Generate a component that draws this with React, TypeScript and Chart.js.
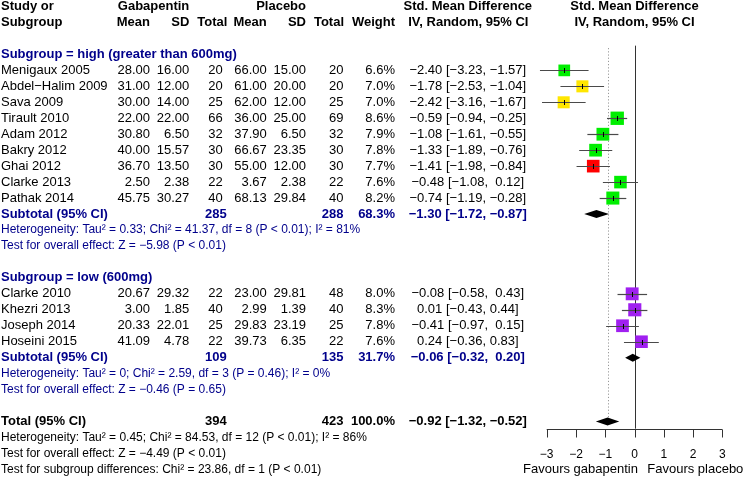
import React, { useEffect, useRef } from "react";
import { Chart, registerables } from "chart.js";

Chart.register(...registerables);

// ---------------- data ----------------
const studies = [
  "Menigaux 2005", "Abdel\u2212Halim 2009", "Sava 2009", "Tirault 2010", "Adam 2012",
  "Bakry 2012", "Ghai 2012", "Clarke 2013", "Pathak 2014",
  "Clarke 2010", "Khezri 2013", "Joseph 2014", "Hoseini 2015",
];
const subgroupOf = ["high", "high", "high", "high", "high", "high", "high", "high", "high", "low", "low", "low", "low"];
const gabaMean = [28.0, 31.0, 30.0, 22.0, 30.8, 40.0, 36.7, 2.5, 45.75, 20.67, 3.0, 20.33, 41.09];
const gabaSD = [16.0, 12.0, 14.0, 22.0, 6.5, 15.57, 13.5, 2.38, 30.27, 29.32, 1.85, 22.01, 4.78];
const gabaN = [20, 20, 25, 66, 32, 30, 30, 22, 40, 22, 40, 25, 22];
const placMean = [66.0, 61.0, 62.0, 36.0, 37.9, 66.67, 55.0, 3.67, 68.13, 23.0, 2.99, 29.83, 39.73];
const placSD = [15.0, 20.0, 12.0, 25.0, 6.5, 23.35, 12.0, 2.38, 29.84, 29.81, 1.39, 23.19, 6.35];
const placN = [20, 20, 25, 69, 32, 30, 30, 22, 40, 48, 40, 25, 22];
const weights = [6.6, 7.0, 7.0, 8.6, 7.9, 7.8, 7.7, 7.6, 8.2, 8.0, 8.3, 7.8, 7.6];
const smd = [-2.4, -1.78, -2.42, -0.59, -1.08, -1.33, -1.41, -0.48, -0.74, -0.08, 0.01, -0.41, 0.24];
const ciLow = [-3.23, -2.53, -3.16, -0.94, -1.61, -1.89, -1.98, -1.08, -1.19, -0.58, -0.43, -0.97, -0.36];
const ciHigh = [-1.57, -1.04, -1.67, -0.25, -0.55, -0.76, -0.84, 0.12, -0.28, 0.43, 0.44, 0.15, 0.83];
const studyColors = ["#00ee00", "#ffe600", "#ffe600", "#00ee00", "#00ee00", "#00ee00", "#ff0000", "#00ee00", "#00ee00", "#a020f0", "#a020f0", "#a020f0", "#a020f0"];

const subgroupLabels = ["Subgroup = high (greater than 600mg)", "Subgroup = low (600mg)"];
const subgroupKeys = ["high", "low"];
const subtotalGabaN = [285, 109];
const subtotalPlacN = [288, 135];
const subtotalWeight = [68.3, 31.7];
const subtotalSmd = [-1.3, -0.06];
const subtotalLow = [-1.72, -0.32];
const subtotalHigh = [-0.87, 0.2];
const subgroupHet = [
  "Heterogeneity: Tau\u00b2 = 0.33; Chi\u00b2 = 41.37, df = 8 (P < 0.01); I\u00b2 = 81%",
  "Heterogeneity: Tau\u00b2 = 0; Chi\u00b2 = 2.59, df = 3 (P = 0.46); I\u00b2 = 0%",
];
const subgroupTest = [
  "Test for overall effect: Z = \u22125.98 (P < 0.01)",
  "Test for overall effect: Z = \u22120.46 (P = 0.65)",
];

const totalGabaN = 394;
const totalPlacN = 423;
const totalWeight = 100.0;
const totalSmd = -0.92;
const totalLow = -1.32;
const totalHigh = -0.52;
const totalHet = "Heterogeneity: Tau\u00b2 = 0.45; Chi\u00b2 = 84.53, df = 12 (P < 0.01); I\u00b2 = 86%";
const totalTest = "Test for overall effect: Z = \u22124.49 (P < 0.01)";
const subgroupDiffTest = "Test for subgroup differences: Chi\u00b2 = 23.86, df = 1 (P < 0.01)";

const xTicks = [-3, -2, -1, 0, 1, 2, 3];
const labelLeft = "Favours gabapentin";
const labelRight = "Favours placebo";

// ---------------- layout / style ----------------
const W = 747;
const H = 477;
const FONT = "'Liberation Sans', Arial, Helvetica, sans-serif";
const BLUE = "#00008b";
const COL = {
  study: 1,
  gMean: 150,
  gSD: 189.3,
  gN: 222.7,
  gNsub: 226.7,
  pMean: 266.7,
  pSD: 306,
  pN: 343.5,
  weight: 395,
  ci: 467.8,
};

const fmt = (v: number, d = 2) => {
  const s = Math.abs(v).toFixed(d);
  return v < 0 ? "\u2212" + s : s;
};
const ciText = (e: number, lo: number, hi: number) =>
  `${fmt(e)} [${fmt(lo)},${hi >= 0 && e < 0 ? "  " : " "}${fmt(hi)}]`;

// build row layout (row index -> content)
type Row = { idx?: number; kind: string; g?: number };
const rows: { row: number; item: Row }[] = [];
let r = 0;
const subRows: number[] = [];
subgroupKeys.forEach((key, g) => {
  rows.push({ row: r - 1, item: { kind: "sghead", g } });
  studies.forEach((_, i) => {
    if (subgroupOf[i] === key) {
      rows.push({ row: r, item: { kind: "study", idx: i } });
      r++;
    }
  });
  rows.push({ row: r, item: { kind: "subtotal", g } });
  subRows.push(r);
  rows.push({ row: r + 1, item: { kind: "het", g } });
  rows.push({ row: r + 2, item: { kind: "test", g } });
  r += 5;
});
const totalRow = r - 1;
const studyRow: number[] = [];
rows.forEach((x) => {
  if (x.item.kind === "study") studyRow[x.item.idx as number] = x.row;
});

const Y_MIN = -4.41;
const Y_MAX = 25.477;
const AXIS_ROW = totalRow + 0.45;

const forestPlugin = {
  id: "forest",
  beforeDatasetsDraw(chart: any) {
    const ctx = chart.ctx;
    const xs = chart.scales.x;
    const ys = chart.scales.y;
    ctx.save();
    // reference line at 0
    ctx.strokeStyle = "#333";
    ctx.lineWidth = 1;
    ctx.beginPath();
    ctx.moveTo(Math.round(xs.getPixelForValue(0)) + 0.5, ys.getPixelForValue(-1.55));
    ctx.lineTo(Math.round(xs.getPixelForValue(0)) + 0.5, ys.getPixelForValue(AXIS_ROW));
    ctx.stroke();
    // overall effect dotted
    ctx.strokeStyle = "#999";
    ctx.setLineDash([1.2, 2]);
    ctx.beginPath();
    const xo = Math.round(xs.getPixelForValue(totalSmd)) + 0.5;
    ctx.moveTo(xo, ys.getPixelForValue(-1.4));
    ctx.lineTo(xo, ys.getPixelForValue(totalRow) - 4);
    ctx.stroke();
    ctx.setLineDash([]);
    ctx.restore();
  },
  afterDatasetsDraw(chart: any) {
    const ctx = chart.ctx;
    const xs = chart.scales.x;
    const ys = chart.scales.y;
    ctx.save();
    // CI lines and estimate ticks
    studies.forEach((_, i) => {
      const y = Math.round(ys.getPixelForValue(studyRow[i])) + 0.5;
      ctx.strokeStyle = "#4a4a4a";
      ctx.lineWidth = 1.2;
      ctx.beginPath();
      ctx.moveTo(xs.getPixelForValue(ciLow[i]), y);
      ctx.lineTo(xs.getPixelForValue(ciHigh[i]), y);
      ctx.stroke();
      ctx.strokeStyle = "#000";
      ctx.lineWidth = 1;
      ctx.beginPath();
      const xe = Math.round(xs.getPixelForValue(smd[i])) + 0.5;
      ctx.moveTo(xe, y - 2.5);
      ctx.lineTo(xe, y + 2.5);
      ctx.stroke();
    });
    // diamonds
    const diamond = (e: number, lo: number, hi: number, row: number) => {
      const y = ys.getPixelForValue(row);
      ctx.fillStyle = "#000";
      ctx.beginPath();
      ctx.moveTo(xs.getPixelForValue(lo), y);
      ctx.lineTo(xs.getPixelForValue(e), y - 4);
      ctx.lineTo(xs.getPixelForValue(hi), y);
      ctx.lineTo(xs.getPixelForValue(e), y + 4);
      ctx.closePath();
      ctx.fill();
    };
    subgroupKeys.forEach((_, g) => diamond(subtotalSmd[g], subtotalLow[g], subtotalHigh[g], subRows[g]));
    diamond(totalSmd, totalLow, totalHigh, totalRow);
    // x axis
    const ya = Math.round(ys.getPixelForValue(AXIS_ROW)) + 0.5;
    ctx.strokeStyle = "#333";
    ctx.lineWidth = 1;
    ctx.beginPath();
    ctx.moveTo(xs.getPixelForValue(xTicks[0]), ya);
    ctx.lineTo(xs.getPixelForValue(xTicks[xTicks.length - 1]), ya);
    xTicks.forEach((t) => {
      const xt = Math.round(xs.getPixelForValue(t)) + 0.5;
      ctx.moveTo(xt, ya);
      ctx.lineTo(xt, ya + 8);
    });
    ctx.stroke();
    ctx.fillStyle = "#000";
    ctx.textBaseline = "middle";
    ctx.textAlign = "center";
    ctx.font = `12px ${FONT}`;
    xTicks.forEach((t) => {
      ctx.fillText(fmt(t, 0), xs.getPixelForValue(t), ys.getPixelForValue(totalRow + 2.1));
    });
    ctx.font = `13px ${FONT}`;
    ctx.fillText(labelLeft, 580.5, ys.getPixelForValue(totalRow + 3));
    ctx.fillText(labelRight, 695.3, ys.getPixelForValue(totalRow + 3));
    ctx.restore();
  },
  afterDraw(chart: any) {
    const ctx = chart.ctx;
    const xs = chart.scales.x;
    const ys = chart.scales.y;
    ctx.save();
    ctx.textBaseline = "middle";
    const t = (s: string, x: number, row: number, align: CanvasTextAlign, bold = false, color = "#000", size = 13) => {
      ctx.font = `${bold ? "bold " : ""}${size}px ${FONT}`;
      ctx.fillStyle = color;
      ctx.textAlign = align;
      ctx.fillText(s, x, ys.getPixelForValue(row));
    };
    const xr = xs.getPixelForValue(0);
    // headers
    t("Study or", COL.study, -4, "left", true);
    t("Subgroup", COL.study, -3, "left", true);
    t("Gabapentin", COL.gSD, -4, "right", true);
    t("Placebo", COL.pSD, -4, "right", true);
    t("Mean", COL.gMean, -3, "right", true);
    t("SD", COL.gSD, -3, "right", true);
    t("Total", 227.3, -3, "right", true);
    t("Mean", COL.pMean, -3, "right", true);
    t("SD", COL.pSD, -3, "right", true);
    t("Total", 344, -3, "right", true);
    t("Weight", COL.weight, -3, "right", true);
    t("Std. Mean Difference", COL.ci, -4, "center", true);
    t("IV, Random, 95% CI", COL.ci + 0.5, -3, "center", true);
    t("Std. Mean Difference", xr, -4, "center", true);
    t("IV, Random, 95% CI", xr, -3, "center", true);

    rows.forEach(({ row, item }) => {
      if (item.kind === "sghead") {
        t(subgroupLabels[item.g as number], COL.study, row, "left", true, BLUE);
      } else if (item.kind === "study") {
        const i = item.idx as number;
        t(studies[i], COL.study, row, "left");
        t(gabaMean[i].toFixed(2), COL.gMean, row, "right");
        t(gabaSD[i].toFixed(2), COL.gSD, row, "right");
        t(String(gabaN[i]), COL.gN, row, "right");
        t(placMean[i].toFixed(2), COL.pMean, row, "right");
        t(placSD[i].toFixed(2), COL.pSD, row, "right");
        t(String(placN[i]), COL.pN, row, "right");
        t(weights[i].toFixed(1) + "%", COL.weight, row, "right");
        t(ciText(smd[i], ciLow[i], ciHigh[i]), COL.ci, row, "center");
      } else if (item.kind === "subtotal") {
        const g = item.g as number;
        t("Subtotal (95% CI)", COL.study, row, "left", true, BLUE);
        t(String(subtotalGabaN[g]), COL.gNsub, row, "right", true, BLUE);
        t(String(subtotalPlacN[g]), COL.pN, row, "right", true, BLUE);
        t(subtotalWeight[g].toFixed(1) + "%", COL.weight, row, "right", true, BLUE);
        t(ciText(subtotalSmd[g], subtotalLow[g], subtotalHigh[g]), COL.ci, row, "center", true, BLUE);
      } else if (item.kind === "het") {
        t(subgroupHet[item.g as number], COL.study, row, "left", false, BLUE, 12);
      } else if (item.kind === "test") {
        t(subgroupTest[item.g as number], COL.study, row, "left", false, BLUE, 12);
      }
    });
    t("Total (95% CI)", COL.study, totalRow, "left", true);
    t(String(totalGabaN), COL.gNsub, totalRow, "right", true);
    t(String(totalPlacN), COL.pN, totalRow, "right", true);
    t(totalWeight.toFixed(1) + "%", COL.weight, totalRow, "right", true);
    t(ciText(totalSmd, totalLow, totalHigh), COL.ci, totalRow, "center", true);
    t(totalHet, COL.study, totalRow + 1, "left", false, "#000", 12);
    t(totalTest, COL.study, totalRow + 2, "left", false, "#000", 12);
    t(subgroupDiffTest, COL.study, totalRow + 3, "left", false, "#000", 12);
    ctx.restore();
  },
};

export default function App() {
  const ref = useRef<HTMLCanvasElement | null>(null);
  useEffect(() => {
    if (!ref.current) return;
    const sideFor = (w: number) => 11.7 * Math.sqrt(w / 6.6);
    const chart = new Chart(ref.current, {
      type: "scatter",
      data: {
        datasets: [
          {
            label: "studies",
            data: studies.map((_, i) => ({ x: smd[i], y: studyRow[i] })),
            pointStyle: "rect",
            pointRadius: weights.map((w) => sideFor(w) / Math.SQRT2),
            pointHoverRadius: weights.map((w) => sideFor(w) / Math.SQRT2),
            pointBackgroundColor: studyColors,
            pointBorderWidth: 0,
            pointBorderColor: studyColors,
            clip: false as any,
          },
        ],
      },
      options: {
        responsive: false,
        animation: false,
        devicePixelRatio: 1,
        layout: { autoPadding: false, padding: { left: 546.7, right: 24.7, top: 0, bottom: 0 } },
        plugins: { legend: { display: false }, tooltip: { enabled: false } },
        events: [],
        scales: {
          x: { type: "linear", min: -3, max: 3, display: false },
          y: { type: "linear", min: Y_MIN, max: Y_MAX, reverse: true, display: false },
        },
      },
      plugins: [forestPlugin],
    });
    return () => chart.destroy();
  }, []);
  return (
    <div style={{ position: "fixed", left: 0, top: 0, width: W, height: H, background: "#fff" }}>
      <canvas ref={ref} width={W} height={H} style={{ display: "block", width: W, height: H }} />
    </div>
  );
}
